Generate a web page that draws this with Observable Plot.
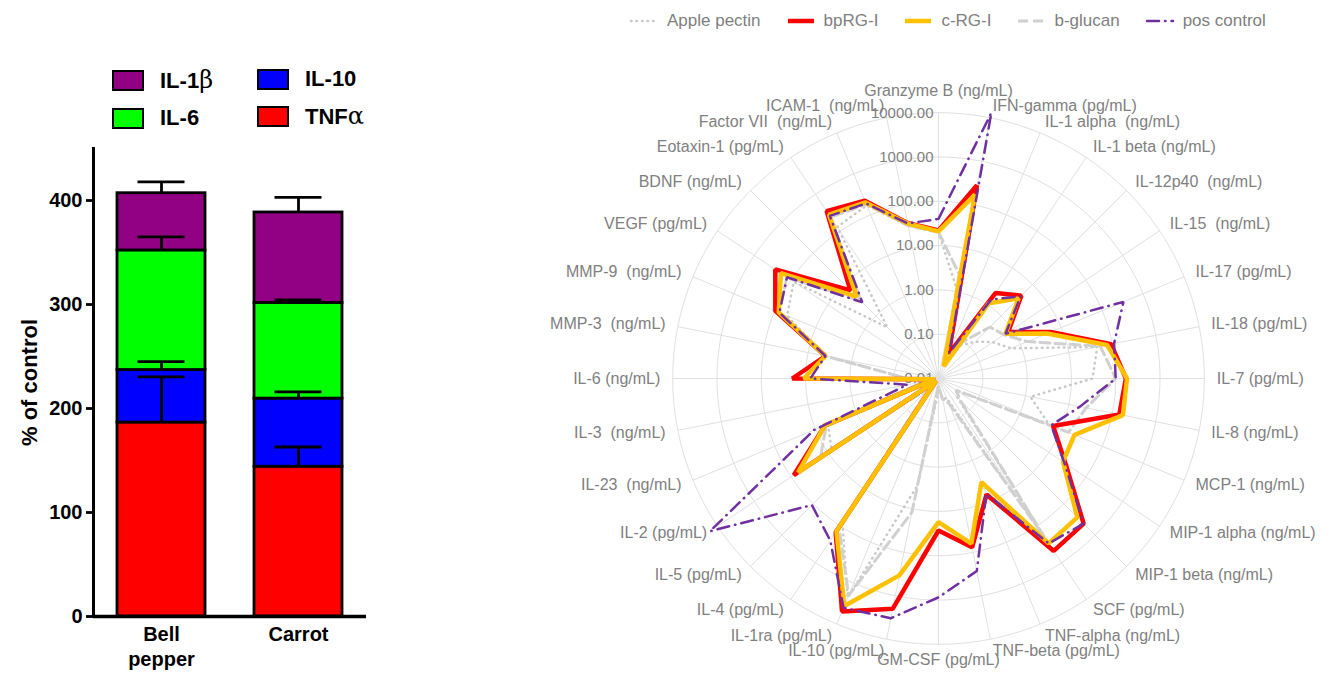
<!DOCTYPE html>
<html><head><meta charset="utf-8">
<script src="https://cdn.jsdelivr.net/npm/d3@7"></script>
<script src="https://cdn.jsdelivr.net/npm/@observablehq/plot@0.6"></script>
<style>
body{margin:0;background:#fff;font-family:"Liberation Sans",Arial,sans-serif;}
#root{position:relative;width:1329px;height:673px;overflow:hidden;background:#fff;}
.abs{position:absolute;}
svg text{white-space:pre;}
.leg1{position:absolute;display:flex;align-items:center;font-weight:bold;font-size:22px;color:#000;}
.leg1 .box{width:28px;height:17px;border:2.5px solid #000;margin-right:16px;}
.sym{font-family:"DejaVu Serif",serif;font-weight:normal;font-size:24px;}
#legend2{position:absolute;left:629px;top:11px;display:flex;align-items:center;font-size:17px;color:#808080;}
#legend2 .it{display:flex;align-items:center;margin-right:25px;}
#legend2 svg{margin-right:8px;}
</style></head><body><div id="root"></div>
<script>
// ---------------- Left chart data ----------------
const foods = ["Bell pepper", "Carrot"];
const cytokines = ["TNFα", "IL-10", "IL-6", "IL-1β"]; // bottom to top
const cytokineColors = ["#ff0000", "#0000ff", "#00ff00", "#920083"];
const tnfMean  = [186.5, 144];
const tnfErr   = [44, 19];
const il10Mean = [50.5, 65.5];
const il10Err  = [8, 6.5];
const il6Mean  = [115, 92];
const il6Err   = [13, 3];
const il1bMean = [55, 87];
const il1bErr  = [11, 14.5];
const barYTicks = [0, 100, 200, 300, 400];

// ---------------- Radar chart data ----------------
const radarAxes = ["Granzyme B (ng/mL)", "IFN-gamma (pg/mL)", "IL-1 alpha  (ng/mL)", "IL-1 beta (ng/mL)",
  "IL-12p40  (ng/mL)", "IL-15  (ng/mL)", "IL-17 (pg/mL)", "IL-18 (pg/mL)", "IL-7 (pg/mL)", "IL-8 (ng/mL)",
  "MCP-1 (ng/mL)", "MIP-1 alpha (ng/mL)", "MIP-1 beta (ng/mL)", "SCF (pg/mL)", "TNF-alpha (ng/mL)",
  "TNF-beta (pg/mL)", "GM-CSF (pg/mL)", "IL-10 (pg/mL)", "IL-1ra (pg/mL)", "IL-4 (pg/mL)", "IL-5 (pg/mL)",
  "IL-2 (pg/mL)", "IL-23  (ng/mL)", "IL-3  (ng/mL)", "IL-6 (ng/mL)", "MMP-3  (ng/mL)", "MMP-9  (ng/mL)",
  "VEGF (pg/mL)", "BDNF (ng/mL)", "Eotaxin-1 (pg/mL)", "Factor VII  (ng/mL)", "ICAM-1  (ng/mL)"];
const radialTicks = [0.01, 0.1, 1, 10, 100, 1000, 10000];
const seriesNames = ["Apple pectin", "bpRG-I", "c-RG-I", "b-glucan", "pos control"];
const applePectin = [20, 1.2, 0.02, 0.08, 0.15, 0.3, 0.6, 45, 30, 1.3, 5, 0.03, 0.04, 200, 0.03, 0.03,
  0.02, 3, 2300, 80, 0.02, 8, 5, 0.02, 0.05, 4, 50, 85, 0.43, 130, 170, 33];
const bpRGI = [22, 280, 0.04, 2.1, 4.4, 0.78, 5.5, 94, 170, 145, 6.3, 28, 430, 480, 6.8, 77,
  27, 2000, 4900, 150, 0.012, 85, 6.0, 0.012, 20, 4, 97, 270, 6.5, 350, 220, 38];
const cRGI = [21, 170, 0.02, 1.1, 3.6, 0.66, 4.5, 76, 180, 175, 21, 24, 270, 300, 3.4, 63,
  17.5, 340, 3600, 140, 0.012, 65, 6.0, 0.012, 11, 4, 80, 190, 4.1, 280, 200, 37];
const bGlucan = [20, 2.5, 0.02, 0.1, 0.44, 0.6, 1.5, 53, 100, 25, 15, 0.03, 0.05, 200, 0.04, 0.03,
  0.015, 12, 2000, 110, 0.02, 16, 5.5, 0.02, 0.05, 4, 80, 130, 3, 240, 180, 33];
const posControl = [40, 13000, 0.043, 1.4, 4.2, 0.66, 330, 110, 100, 18, 5.7, 26, 430, 300, 6.6, 270,
  870, 3300, 4000, 250, 110, 16000, 11, 0.052, 7.8, 4, 77, 130, 2.7, 260, 190, 37];
const seriesValues = [applePectin, bpRGI, cRGI, bGlucan, posControl];

// styles (not data)
const seriesStyles = [
  {stroke: "#c8c8c8", strokeWidth: 2.5, strokeDasharray: "0.5,5", strokeLinecap: "round"},
  {stroke: "#ff0000", strokeWidth: 4.5},
  {stroke: "#ffc000", strokeWidth: 4.5},
  {stroke: "#d0d0d0", strokeWidth: 3, strokeDasharray: "10,5"},
  {stroke: "#7030a0", strokeWidth: 2.5, strokeDasharray: "12,6,0.5,6", strokeLinecap: "round"}
];
const drawOrder = [0, 3, 1, 2, 4];

const root = document.getElementById("root");

// ================= LEFT: stacked bars =================
const stackRows = [];
const means = [tnfMean, il10Mean, il6Mean, il1bMean];
const errs = [tnfErr, il10Err, il6Err, il1bErr];
foods.forEach((f, i) => {
  let base = 0;
  cytokines.forEach((c, j) => {
    stackRows.push({food: f, cytokine: c, y1: base, y2: base + means[j][i], err: errs[j][i]});
    base += means[j][i];
  });
});

const bars = Plot.plot({
  width: 400, height: 673,
  marginLeft: 93, marginRight: 34, marginTop: 148, marginBottom: 57,
  style: {fontFamily: "Liberation Sans, Arial, sans-serif", color: "#000", background: "transparent"},
  x: {domain: foods, paddingInner: 0.358, paddingOuter: 0.175},
  y: {domain: [0, 450]},
  color: {domain: cytokines, range: cytokineColors},
  marks: [
    Plot.barY(stackRows, {x: "food", y1: "y1", y2: "y2", fill: "cytokine", stroke: "#000", strokeWidth: 2.8}),
    Plot.ruleX(stackRows, {x: "food", y1: "y2", y2: d => d.y2 + d.err, stroke: "#000", strokeWidth: 2.8}),
    Plot.tickY(stackRows, {x: "food", y: d => d.y2 + d.err, stroke: "#000", strokeWidth: 2.8, insetLeft: 20.5, insetRight: 20.5}),
    Plot.frame({anchor: "left", stroke: "#000", strokeWidth: 3}),
    Plot.ruleY([0], {stroke: "#000", strokeWidth: 3.5}),
    Plot.axisY({ticks: barYTicks, tickSize: 7, tickPadding: 4, strokeWidth: 2.8, fontSize: 20, fontWeight: "bold", label: null}),
    Plot.axisY({ticks: [], fontSize: 22, fontWeight: "bold",
      label: "% of control", labelAnchor: "center", labelArrow: "none", labelOffset: 72}),
    Plot.axisX({tickSize: 0, tickPadding: 7, fontSize: 20, fontWeight: "bold", lineHeight: 1.25,
      tickFormat: d => d.replace(" ", "\n"), label: null})
  ]
});
bars.classList.add("abs");
bars.style.left = "0px"; bars.style.top = "0px";
root.appendChild(bars);

// left legend (HTML)
const leg1Layout = [["IL-1β", 112, 66], ["IL-10", 257, 66], ["IL-6", 112, 105], ["TNFα", 257, 102]];
leg1Layout.forEach(([name, lx, ly]) => {
  const j = cytokines.indexOf(name);
  const d = document.createElement("div");
  d.className = "leg1";
  d.style.left = lx + "px"; d.style.top = ly + "px";
  const label = name.replace(/([αβ])/, '<span class="sym">$1</span>');
  d.innerHTML = `<div class="box" style="background:${cytokineColors[j]}"></div><span>${label}</span>`;
  root.appendChild(d);
});

// ================= RIGHT: radar =================
const N = radarAxes.length;
const ang = k => k * 2 * Math.PI / N;
const rad = v => Math.max(0, Math.log10(v) - Math.log10(radialTicks[0]));
const outer = rad(radialTicks[radialTicks.length - 1]);
const px = 44.3; // pixels per decade
const W = 700, H = 673, cx = 350, cy = 378;

const rows = [];
seriesNames.forEach((s, i) => seriesValues[i].forEach((v, k) => rows.push({series: s, k, v})));

const circlePts = radialTicks.slice(1).flatMap(t => d3.range(0, 361, 2).map(a => ({t, a: a * Math.PI / 180})));
const axisIdx = d3.range(N);
const labR = k => (k === 0 ? 6.5 : k === N / 2 ? 6.36 : 6.28);

const radarMarks = [
  Plot.line(circlePts, {x: d => rad(d.t) * Math.sin(d.a), y: d => rad(d.t) * Math.cos(d.a), z: "t", stroke: "#e0e0e0", strokeWidth: 1}),
  Plot.link(axisIdx, {x1: 0, y1: 0, x2: k => outer * Math.sin(ang(k)), y2: k => outer * Math.cos(ang(k)), stroke: "#e0e0e0", strokeWidth: 1}),
  Plot.text(radialTicks, {x: 0, y: t => rad(t), text: d3.format(".2f"), textAnchor: "end", dx: -5, fill: "#808080", fontSize: 15}),
  Plot.text(axisIdx.filter(k => k % (N / 2) === 0), {x: k => labR(k) * Math.sin(ang(k)), y: k => labR(k) * Math.cos(ang(k)), text: k => radarAxes[k], textAnchor: "middle", fill: "#808080", fontSize: 16}),
  Plot.text(axisIdx.filter(k => k > 0 && k < N / 2), {x: k => labR(k) * Math.sin(ang(k)), y: k => labR(k) * Math.cos(ang(k)), text: k => radarAxes[k], textAnchor: "start", fill: "#808080", fontSize: 16}),
  Plot.text(axisIdx.filter(k => k > N / 2), {x: k => labR(k) * Math.sin(ang(k)), y: k => labR(k) * Math.cos(ang(k)), text: k => radarAxes[k], textAnchor: "end", fill: "#808080", fontSize: 16}),
  ...drawOrder.map(i => Plot.line(rows.filter(d => d.series === seriesNames[i]), {
    x: d => rad(d.v) * Math.sin(ang(d.k)), y: d => rad(d.v) * Math.cos(ang(d.k)),
    curve: "linear-closed", strokeLinejoin: "miter", ...seriesStyles[i]}))
];

const radar = Plot.plot({
  width: W, height: H, margin: 0,
  style: {fontFamily: "Liberation Sans, Arial, sans-serif", background: "transparent", overflow: "visible"},
  x: {domain: [-cx / px, (W - cx) / px], range: [0, W], axis: null},
  y: {domain: [-(H - cy) / px, cy / px], range: [H, 0], axis: null},
  marks: radarMarks
});
radar.classList.add("abs");
radar.style.left = (938 - cx) + "px"; radar.style.top = "0px";
root.appendChild(radar);

// radar legend (HTML)
const leg2 = document.createElement("div");
leg2.id = "legend2";
seriesNames.forEach((s, i) => {
  const st = seriesStyles[i];
  const it = document.createElement("div");
  it.className = "it";
  it.innerHTML = `<svg width="30" height="10"><line x1="2" y1="5" x2="28" y2="5" stroke="${st.stroke}" stroke-width="${st.strokeWidth}" stroke-dasharray="${st.strokeDasharray || "none"}" stroke-linecap="${st.strokeLinecap || "butt"}"/></svg><span>${s}</span>`;
  leg2.appendChild(it);
});
root.appendChild(leg2);
</script></body></html>
